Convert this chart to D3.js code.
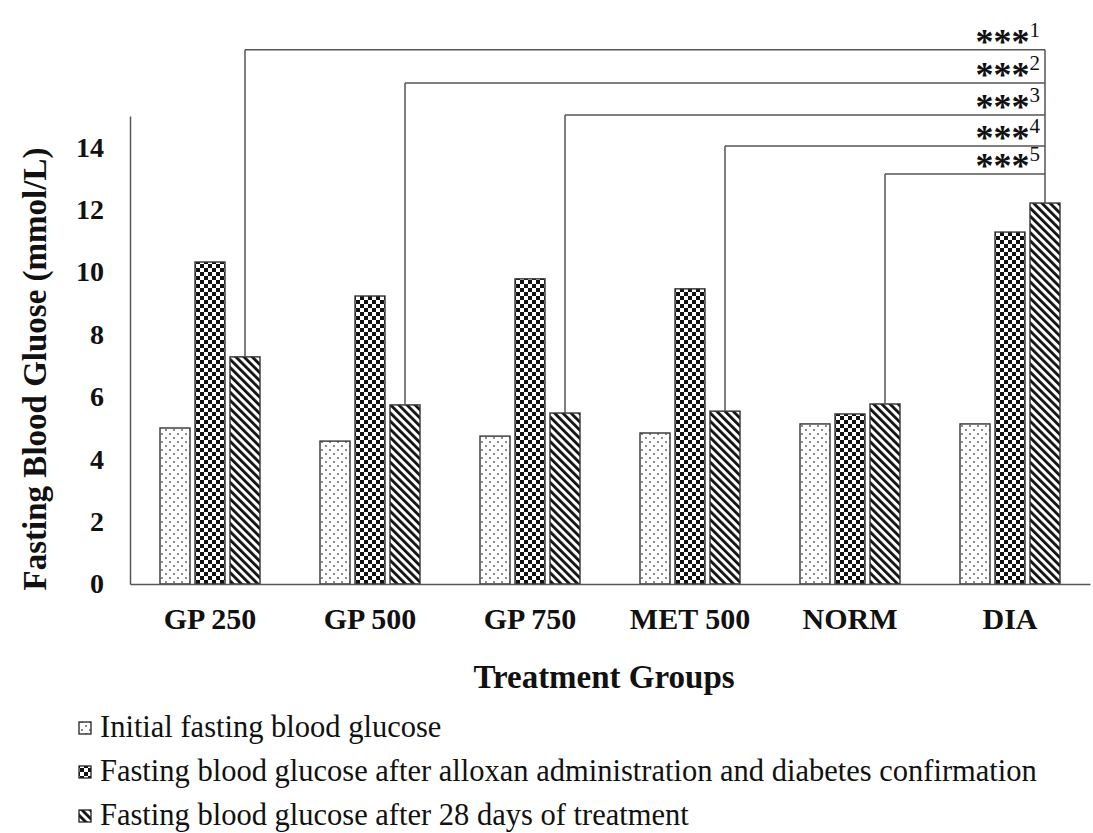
<!DOCTYPE html>
<html>
<head>
<meta charset="utf-8">
<script src="https://cdn.jsdelivr.net/npm/d3@7"></script>
<style>
  body { margin: 0; background: #fff; }
  svg { display: block; }
  text { font-family: "Liberation Serif", "Times New Roman", serif; fill: #111; }
</style>
</head>
<body>
<div id="chart"></div>
<script>
// groups on the x axis
const groups = ["GP 250", "GP 500", "GP 750", "MET 500", "NORM", "DIA"];
const seriesNames = [
    "Initial fasting blood glucose",
    "Fasting blood glucose after alloxan administration and diabetes confirmation",
    "Fasting blood glucose after 28 days of treatment"
];
// values in mmol/L
const initialFBG = [5.0, 4.58, 4.74, 4.84, 5.13, 5.13];
const alloxanFBG = [10.32, 9.23, 9.78, 9.46, 5.45, 11.28];
const day28FBG   = [7.28, 5.74, 5.48, 5.54, 5.77, 12.21];
const yTicks = [0, 2, 4, 6, 8, 10, 12, 14];

// significance brackets: each group vs DIA (28 days)
const sigFrom  = ["GP 250", "GP 500", "GP 750", "MET 500", "NORM"];
const sigLevel = [17.12, 16.06, 15.03, 14.04, 13.14];
const sigMark  = ["1", "2", "3", "4", "5"];

const width = 1093, height = 833;
const seriesData = [initialFBG, alloxanFBG, day28FBG];
const patternIds = ["pDots", "pCheck", "pStripe"];

const svg = d3.select("#chart").append("svg")
    .attr("width", width)
    .attr("height", height);

// fill patterns
const defs = svg.append("defs");

const dots = defs.append("pattern")
    .attr("id", "pDots")
    .attr("patternUnits", "userSpaceOnUse")
    .attr("width", 8).attr("height", 8);
dots.append("rect").attr("width", 8).attr("height", 8).attr("fill", "#fff");
dots.append("circle").attr("cx", 2).attr("cy", 2).attr("r", 0.9).attr("fill", "#555");
dots.append("circle").attr("cx", 6).attr("cy", 6).attr("r", 0.9).attr("fill", "#555");

const check = defs.append("pattern")
    .attr("id", "pCheck")
    .attr("patternUnits", "userSpaceOnUse")
    .attr("width", 8).attr("height", 8);
check.append("rect").attr("width", 8).attr("height", 8).attr("fill", "#fff");
check.append("rect").attr("x", 0).attr("y", 0).attr("width", 4).attr("height", 4).attr("fill", "#111");
check.append("rect").attr("x", 4).attr("y", 4).attr("width", 4).attr("height", 4).attr("fill", "#111");

const stripe = defs.append("pattern")
    .attr("id", "pStripe")
    .attr("patternUnits", "userSpaceOnUse")
    .attr("width", 5.8).attr("height", 10)
    .attr("patternTransform", "rotate(-45)");
stripe.append("rect").attr("width", 5.8).attr("height", 10).attr("fill", "#fff");
stripe.append("rect").attr("x", 0).attr("y", 0).attr("width", 2.8).attr("height", 10).attr("fill", "#111");

// scales
const x0 = d3.scaleBand()
    .domain(groups)
    .range([130, 1090])
    .paddingInner(0.375)
    .paddingOuter(0.1875);

const x1 = d3.scaleBand()
    .domain(d3.range(3))
    .range([0, x0.bandwidth()])
    .paddingInner(5 / 35);

const y = d3.scaleLinear()
    .domain([0, 15])
    .range([584, 116]);

// bars
seriesData.forEach((vals, s) => {
    svg.append("g")
        .selectAll("rect")
        .data(groups.map((g, i) => ({ g: g, v: vals[i] })))
        .enter().append("rect")
        .attr("x", d => x0(d.g) + x1(s))
        .attr("y", d => y(d.v))
        .attr("width", x1.bandwidth())
        .attr("height", d => y(0) - y(d.v))
        .attr("fill", `url(#${patternIds[s]})`)
        .attr("stroke", "#333")
        .attr("stroke-width", 1.4);
});

// axes
const yAxis = svg.append("g")
    .attr("transform", "translate(130,0)")
    .call(d3.axisLeft(y).tickValues(yTicks).tickSize(0).tickPadding(26).tickSizeOuter(0));
yAxis.select(".domain").attr("stroke", "#555").attr("stroke-width", 1.5);
yAxis.selectAll("text")
    .style("font-family", "Liberation Serif, serif")
    .style("font-weight", "bold")
    .style("font-size", "28px")
    .attr("fill", "#111");

const xAxis = svg.append("g")
    .attr("transform", `translate(0,${y(0)})`)
    .call(d3.axisBottom(x0).tickSize(0).tickPadding(24).tickSizeOuter(0));
xAxis.select(".domain").attr("stroke", "#555").attr("stroke-width", 1.5);
xAxis.selectAll("text")
    .style("font-family", "Liberation Serif, serif")
    .style("font-weight", "bold")
    .style("font-size", "30px")
    .attr("fill", "#111");

// axis titles
svg.append("text")
    .attr("transform", "translate(46,369) rotate(-90)")
    .attr("text-anchor", "middle")
    .style("font-weight", "bold")
    .style("font-size", "33px")
    .text("Fasting Blood Gluose (mmol/L)");

svg.append("text")
    .attr("x", 604)
    .attr("y", 688)
    .attr("text-anchor", "middle")
    .style("font-weight", "bold")
    .style("font-size", "33px")
    .text("Treatment Groups");

// significance brackets
const xRight = x0("DIA") + x1(2) + x1.bandwidth() / 2;
const br = svg.append("g").attr("stroke", "#555").attr("stroke-width", 1.5).attr("fill", "none");

sigFrom.forEach((g, i) => {
    const gi = groups.indexOf(g);
    const xl = x0(g) + x1(2) + x1.bandwidth() / 2;
    br.append("line")
        .attr("x1", xl).attr("x2", xRight)
        .attr("y1", y(sigLevel[i])).attr("y2", y(sigLevel[i]));
    br.append("line")
        .attr("x1", xl).attr("x2", xl)
        .attr("y1", y(sigLevel[i])).attr("y2", y(day28FBG[gi]));

    const t = svg.append("text")
        .attr("x", xRight - 5)
        .attr("y", y(sigLevel[i]) + 4)
        .attr("text-anchor", "end")
        .style("font-weight", "bold")
        .style("font-size", "36px");
    t.append("tspan").text("***");
    t.append("tspan")
        .attr("dy", -17)
        .style("font-size", "21px")
        .style("font-weight", "normal")
        .text(sigMark[i]);
});
br.append("line")
    .attr("x1", xRight).attr("x2", xRight)
    .attr("y1", y(d3.max(sigLevel))).attr("y2", y(day28FBG[groups.indexOf("DIA")]));

// legend
const legend = svg.append("g");
seriesNames.forEach((name, s) => {
    const ly = 737 + s * 44;
    legend.append("rect")
        .attr("x", 79).attr("y", ly - 15)
        .attr("width", 12).attr("height", 12)
        .attr("fill", `url(#${patternIds[s]})`)
        .attr("stroke", "#222")
        .attr("stroke-width", 1.3);
    legend.append("text")
        .attr("x", 100)
        .attr("y", ly)
        .style("font-size", "30.5px")
        .text(name);
});
</script>
</body>
</html>
